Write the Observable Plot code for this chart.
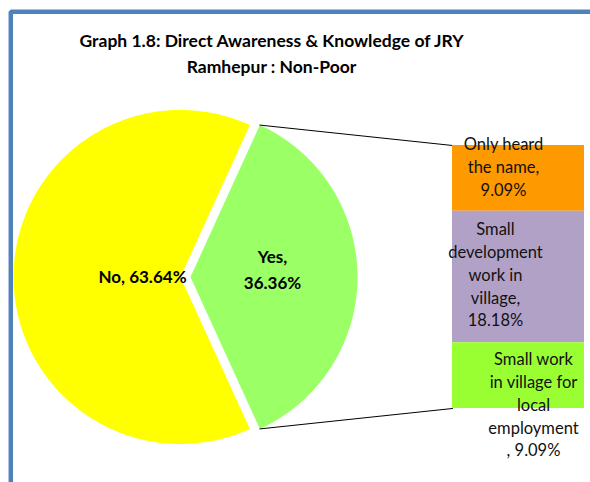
<!DOCTYPE html>
<html>
<head>
<meta charset="utf-8">
<script src="https://cdn.jsdelivr.net/npm/d3@7"></script>
<script src="https://cdn.jsdelivr.net/npm/@observablehq/plot@0.6"></script>
<style>
  html, body { margin: 0; padding: 0; background: #fff; overflow: hidden; }
</style>
</head>
<body>
<div id="chart"></div>
<script>
// ---------- data ----------
const titleLines = ["Graph 1.8: Direct Awareness & Knowledge of JRY", "Ramhepur : Non-Poor"];
const pieCategories = ["Yes", "No"];
const pieValues = [36.36, 63.64];
const pieLabelText = ["Yes,\n36.36%", "No, 63.64%"];
const barCategories = ["Only heard the name", "Small development work in village", "Small work in village for local employment"];
const barValues = [9.09, 18.18, 9.09];
const barLabelText = ["Only heard\nthe name,\n9.09%", "Small\ndevelopment\nwork in\nvillage,\n18.18%", "Small work\nin village for\nlocal\nemployment\n, 9.09%"];

// ---------- layout & style ----------
const W = 590, H = 482;
const FONT = "Lato, 'Noto Sans', sans-serif";
const pieGeom = {cx: 180, cy: 276.5, r: 167, explode: 10};
const pieColors = ["#9BFF66", "#FFFF00"];
const pieLabelPos = [{x: 272, y: 267}, {x: 142, y: 274}];
const barGeom = {x0: 452, x1: 584, top: 145, height: 263};
const barColors = ["#FF9900", "#B2A1C7", "#99FF33"];
const barLabelPos = [{x: 503, y: 165}, {x: 495, y: 273}, {x: 533, y: 403}];
const borderColor = "#4F81BD";

// ---------- derived geometry ----------
const total = d3.sum(pieValues);
const start = Math.PI / 2 - (pieValues[0] / total) * Math.PI;
const arcs = d3.pie().sort(null).startAngle(start).endAngle(start + 2 * Math.PI)(pieValues);

const wedges = arcs.map((a, i) => {
  const mid = (a.startAngle + a.endAngle) / 2;
  const off = i === 0 ? pieGeom.explode : 0;
  const ox = off * Math.sin(mid), oy = -off * Math.cos(mid);
  const cx = pieGeom.cx + ox, cy = pieGeom.cy + oy;
  const n = 180;
  const pts = [{x: cx, y: cy}];
  for (let k = 0; k <= n; k++) {
    const t = a.startAngle + (a.endAngle - a.startAngle) * k / n;
    pts.push({x: cx + pieGeom.r * Math.sin(t), y: cy - pieGeom.r * Math.cos(t)});
  }
  return {cat: pieCategories[i], pts, cx, cy, a0: a.startAngle, a1: a.endAngle};
});

const barSum = d3.sum(barValues);
let acc = 0;
const bars = barValues.map((v, i) => {
  const y1 = barGeom.top + barGeom.height * acc / barSum;
  acc += v;
  const y2 = barGeom.top + barGeom.height * acc / barSum;
  return {cat: barCategories[i], value: v, y1, y2, x1: barGeom.x0, x2: barGeom.x1, color: barColors[i]};
});

const yes = wedges[0];
const connectors = [
  [{x: yes.cx + pieGeom.r * Math.sin(yes.a0), y: yes.cy - pieGeom.r * Math.cos(yes.a0)}, {x: barGeom.x0, y: bars[0].y1}],
  [{x: yes.cx + pieGeom.r * Math.sin(yes.a1), y: yes.cy - pieGeom.r * Math.cos(yes.a1)}, {x: barGeom.x0, y: bars[bars.length - 1].y2}]
];

const border = [{x: 10.3, y: H}, {x: 10.3, y: 11.3}, {x: W, y: 11.3}];

const marks = [];
marks.push(Plot.line(border, {x: "x", y: "y", stroke: borderColor, strokeWidth: 4.5, strokeLinejoin: "miter", strokeLinecap: "butt"}));
wedges.forEach((w, i) => {
  marks.push(Plot.line(w.pts, {x: "x", y: "y", fill: pieColors[i], stroke: "none", curve: "linear-closed"}));
});
connectors.forEach(c => {
  marks.push(Plot.line(c, {x: "x", y: "y", stroke: "#000", strokeWidth: 1}));
});
marks.push(Plot.rect(bars, {x1: "x1", x2: "x2", y1: "y1", y2: "y2", fill: d => d.color, inset: 0}));
marks.push(Plot.text(titleLines.map((t, i) => ({t, i})), {
  x: 271, y: d => d.i === 0 ? 40.5 : 67, text: "t", fontSize: 17.5, fontWeight: "bold", fill: "#000", fontFamily: FONT
}));
marks.push(Plot.text(pieLabelText.map((t, i) => ({t, ...pieLabelPos[i]})), {
  x: "x", y: "y", text: "t", fontSize: 17, fontWeight: "bold", fill: "#000", fontFamily: FONT, lineHeight: 1.55
}));
marks.push(Plot.text(barLabelText.map((t, i) => ({t, ...barLabelPos[i]})), {
  x: "x", y: "y", text: "t", fontSize: 16.5, fill: "#111", fontFamily: FONT, lineHeight: 1.38
}));

const chart = Plot.plot({
  width: W, height: H, margin: 0,
  x: {domain: [0, W], range: [0, W], axis: null},
  y: {domain: [0, H], range: [0, H], axis: null},
  style: {fontFamily: FONT, background: "#fff"},
  marks
});
document.getElementById("chart").appendChild(chart);
</script>
</body>
</html>
